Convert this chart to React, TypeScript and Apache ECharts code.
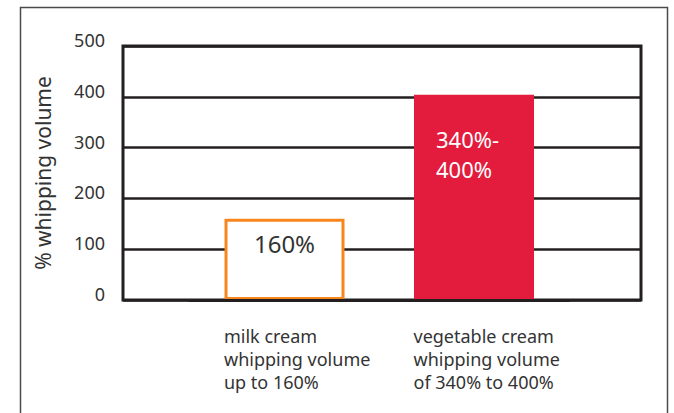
import React, { useEffect, useRef } from "react";
import * as echarts from "echarts";

const categories = [
  "milk cream\nwhipping volume\nup to 160%",
  "vegetable cream\nwhipping volume\nof 340% to 400%",
];
const values = [160, 404];
const barLabels = ["160%", "340%-\n400%"];
const yAxisName = "% whipping volume";
const yMin = 0;
const yMax = 500;
const yInterval = 100;

const FONT = "Noto Sans";
const TEXT = "#333333";
const DARK = "#231f20";

export default function App() {
  const ref = useRef<HTMLDivElement>(null);
  useEffect(() => {
    if (!ref.current) return;
    const chart = echarts.init(ref.current, null, { renderer: "svg" });
    const option = {
      animation: false,
      backgroundColor: "#ffffff",
      textStyle: { fontFamily: FONT },
      graphic: [
        {
          type: "polyline",
          shape: { points: [[20.5, 420], [20.5, 7.5], [667.5, 7.5], [667.5, 420]] },
          style: { stroke: "#4a4a4a", lineWidth: 1.5, fill: "none" },
          silent: true,
        },
      ],
      grid: [
        { left: 123, right: 33, top: 46, bottom: 113, show: true, borderColor: DARK, borderWidth: 3 },
        { left: 189.75, right: 105.25, top: 46, bottom: 113 },
      ],
      xAxis: [
        { type: "value", gridIndex: 0, min: 0, max: 1, show: false },
        {
          type: "category",
          gridIndex: 1,
          data: categories,
          z: 5,
          axisLine: { show: true, lineStyle: { color: DARK, width: 3 } },
          axisTick: { show: false },
          axisLabel: {
            margin: 24,
            align: "center",
            formatter: (v: string) => v.split("\n").map((l) => `{a|${l}}`).join("\n"),
            rich: {
              a: { width: 121, align: "left", fontSize: 18, lineHeight: 23, color: TEXT, fontFamily: FONT },
            },
          },
        },
      ],
      yAxis: [
        {
          type: "value",
          gridIndex: 0,
          min: yMin,
          max: yMax,
          interval: yInterval,
          name: yAxisName,
          nameLocation: "middle",
          nameGap: 70,
          nameTextStyle: { fontSize: 21, color: TEXT, fontFamily: FONT },
          axisLine: { show: false },
          axisTick: { show: false },
          axisLabel: {
            margin: 18,
            fontSize: 18,
            color: TEXT,
            fontFamily: FONT,
            verticalAlign: "bottom",
            lineHeight: 12,
          },
          splitLine: { show: true, lineStyle: { color: DARK, width: 2.5 } },
        },
        { type: "value", gridIndex: 1, min: yMin, max: yMax, interval: yInterval, show: false },
      ],
      series: [
        {
          type: "bar",
          xAxisIndex: 1,
          yAxisIndex: 1,
          barWidth: 120,
          data: values.map((v, i) =>
            i === 0
              ? {
                  value: v,
                  itemStyle: { color: "#ffffff", borderColor: "#f7861f", borderWidth: 3 },
                  label: {
                    show: true,
                    formatter: barLabels[i],
                    position: "insideTop",
                    distance: 12,
                    fontSize: 24,
                    lineHeight: 26,
                    color: TEXT,
                    fontFamily: FONT,
                  },
                }
              : {
                  value: v,
                  itemStyle: { color: "#e31b3d" },
                  label: {
                    show: true,
                    formatter: barLabels[i],
                    position: [22, 29],
                    align: "left",
                    verticalAlign: "top",
                    fontSize: 22,
                    lineHeight: 30,
                    color: "#ffffff",
                    fontFamily: FONT,
                  },
                }
          ),
        },
      ],
    };
    chart.setOption(option as any);
    return () => chart.dispose();
  }, []);
  return (
    <div
      ref={ref}
      style={{ position: "fixed", left: 0, top: 0, width: 674, height: 413 }}
    />
  );
}
